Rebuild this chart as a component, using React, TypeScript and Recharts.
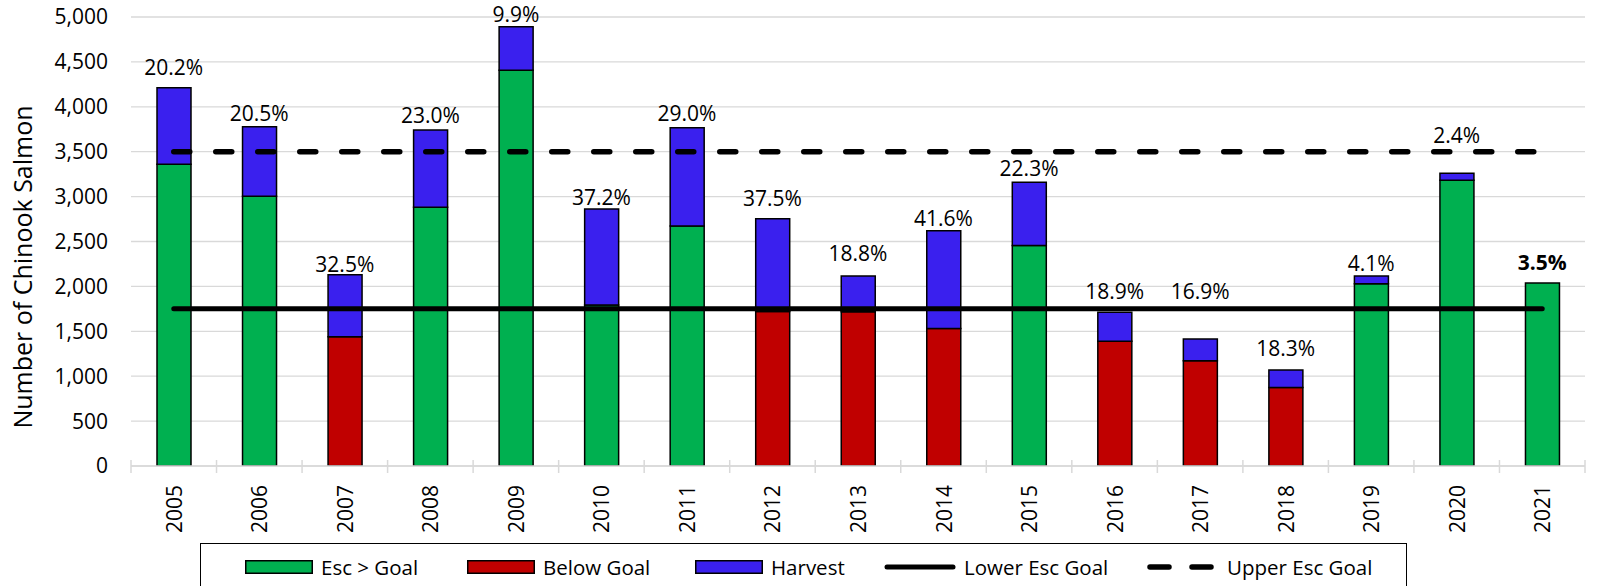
import React from 'react';
import {
  ComposedChart, Bar, Line, XAxis, YAxis, CartesianGrid, Legend, LabelList,
} from 'recharts';

const years = ['2005','2006','2007','2008','2009','2010','2011','2012','2013','2014','2015','2016','2017','2018','2019','2020','2021'];
const escapement = [3360, 3003, 1438, 2881, 4406, 1793, 2673, 1721, 1718, 1530, 2455, 1388, 1173, 873, 2029, 3181, 2038];
const harvest = [853, 775, 692, 861, 486, 1069, 1094, 1033, 398, 1090, 704, 323, 241, 196, 87, 78, 0];
const harvestPct = ['20.2%','20.5%','32.5%','23.0%','9.9%','37.2%','29.0%','37.5%','18.8%','41.6%','22.3%','18.9%','16.9%','18.3%','4.1%','2.4%','3.5%'];
const pctLabelAt = [4438, 3927, 2246, 3909, 5035, 2999, 3927, 2981, 2368, 2758, 3322, 1952, 1952, 1310, 2257, 3686, 2275];
const lowerGoal = 1750;
const upperGoal = 3500;
const yTicks = [0, 500, 1000, 1500, 2000, 2500, 3000, 3500, 4000, 4500, 5000];

const GREEN = '#00B050';
const RED = '#C00000';
const BLUE = '#3A20EE';
const FONT = '"Open Sans", sans-serif';

const data = years.map((y, i) => ({
  year: y,
  escAbove: escapement[i] >= lowerGoal ? escapement[i] : 0,
  escBelow: escapement[i] < lowerGoal ? escapement[i] : 0,
  harvest: harvest[i],
  lower: lowerGoal,
  upper: upperGoal,
  labelAt: pctLabelAt[i],
  pct: harvestPct[i],
}));

const legendItems = [
  { name: 'Esc > Goal', kind: 'rect', color: GREEN, left: 44 },
  { name: 'Below Goal', kind: 'rect', color: RED, left: 266 },
  { name: 'Harvest', kind: 'rect', color: BLUE, left: 494 },
  { name: 'Lower Esc Goal', kind: 'line', color: '#000', left: 683 },
  { name: 'Upper Esc Goal', kind: 'dash', color: '#000', left: 946 },
];

const PLOT_W = 1602 - 131 - 17;
const HALF_BAND = PLOT_W / years.length / 2;

const XTick = (props: any) => {
  const { x, y, payload, index } = props;
  const half = payload && payload.offset ? payload.offset : HALF_BAND;
  return (
    <g>
      <line x1={x - half} x2={x - half} y1={y - 6} y2={y + 7} stroke="#d9d9d9" strokeWidth={1.5} />
      {index === years.length - 1 && (
        <line x1={x + half} x2={x + half} y1={y - 6} y2={y + 7} stroke="#d9d9d9" strokeWidth={1.5} />
      )}
      <text
        x={x}
        y={y + 19}
        transform={`rotate(-90, ${x}, ${y + 19})`}
        textAnchor="end"
        dominantBaseline="central"
        fontFamily={FONT}
        fontSize={21}
        fill="#000"
      >
        {payload.value}
      </text>
    </g>
  );
};

const PctLabel = (props: any) => {
  const { x, y, value, index } = props;
  return (
    <text
      x={x}
      y={y}
      textAnchor="middle"
      dominantBaseline="central"
      fontFamily={FONT}
      fontSize={21}
      fontWeight={index === years.length - 1 ? 700 : 400}
      fill="#000"
    >
      {value}
    </text>
  );
};

const LegendBox = () => (
  <div
    style={{
      boxSizing: 'border-box',
      position: 'relative',
      width: 1207,
      height: 60,
      border: '1.5px solid #000',
      background: '#fff',
      fontFamily: FONT,
      fontSize: 20.5,
      color: '#000',
    }}
  >
    {legendItems.map((it) => (
      <div
        key={it.name}
        style={{ position: 'absolute', left: it.left, top: 8, display: 'flex', alignItems: 'center', height: 30 }}
      >
        <svg width={it.kind === 'line' ? 72 : 68} height={14} style={{ marginRight: it.kind === 'dash' ? 12 : 8 }}>
          {it.kind === 'rect' && (
            <rect x={0.75} y={0.75} width={66.5} height={12.5} fill={it.color} stroke="#000" strokeWidth={1.5} />
          )}
          {it.kind === 'line' && (
            <line x1={3} x2={69} y1={7} y2={7} stroke="#000" strokeWidth={5} strokeLinecap="round" />
          )}
          {it.kind === 'dash' && (
            <line x1={3} x2={64} y1={7} y2={7} stroke="#000" strokeWidth={5.5} strokeLinecap="round" strokeDasharray="19 23" />
          )}
        </svg>
        <span style={{ whiteSpace: 'nowrap', lineHeight: '30px' }}>{it.name}</span>
      </div>
    ))}
  </div>
);

const YTitle = () => {
  const cx = 22;
  const cy = 267;
  return (
    <text
      x={cx}
      y={cy}
      transform={`rotate(-90, ${cx}, ${cy})`}
      textAnchor="middle"
      dominantBaseline="central"
      fontFamily={FONT}
      fontSize={25}
      fill="#000"
    >
      Number of Chinook Salmon
    </text>
  );
};

export default function App() {
  return (
    <div style={{ width: 1602, height: 586, overflow: 'hidden', position: 'relative', background: '#fff' }}>
      <style>{'body{margin:0;}'}</style>
      <ComposedChart
        width={1602}
        height={586}
        data={data}
        margin={{ top: 17, right: 17, left: 0, bottom: 50 }}
      >
        <CartesianGrid vertical={false} stroke="#d9d9d9" strokeWidth={1.3} />
        <XAxis
          dataKey="year"
          interval={0}
          height={70}
          tickSize={0}
          tickMargin={0}
          tickLine={false}
          axisLine={{ stroke: '#d9d9d9', strokeWidth: 1.5 }}
          tick={<XTick />}
        />
        <YAxis
          width={131}
          domain={[0, 5000]}
          ticks={yTicks}
          allowDataOverflow
          axisLine={false}
          tickLine={false}
          tickSize={0}
          tickMargin={23}
          tickFormatter={(v: number) => v.toLocaleString('en-US')}
          tick={{ fontFamily: FONT, fontSize: 21, fill: '#000' }}
          label={{ content: <YTitle /> }}
        />
        <Legend
          layout="horizontal"
          verticalAlign="middle"
          align="center"
          content={<LegendBox />}
          wrapperStyle={{ position: 'absolute', left: 200, top: 543, width: 1207, height: 60 }}
        />
        <Bar dataKey="escAbove" stackId="a" fill={GREEN} stroke="#000" strokeWidth={1.5} barSize={34} isAnimationActive={false} />
        <Bar dataKey="escBelow" stackId="a" fill={RED} stroke="#000" strokeWidth={1.5} barSize={34} isAnimationActive={false} />
        <Bar dataKey="harvest" stackId="a" fill={BLUE} stroke="#000" strokeWidth={1.5} barSize={34} isAnimationActive={false} />
        <Line dataKey="lower" stroke="#000" strokeWidth={5} strokeLinecap="round" dot={false} activeDot={false} isAnimationActive={false} />
        <Line dataKey="upper" stroke="#000" strokeWidth={5.5} strokeLinecap="round" strokeDasharray="16 26" dot={false} activeDot={false} isAnimationActive={false} />
        <Line dataKey="labelAt" stroke="none" dot={false} activeDot={false} isAnimationActive={false}>
          <LabelList dataKey="pct" content={<PctLabel />} />
        </Line>
      </ComposedChart>
    </div>
  );
}
